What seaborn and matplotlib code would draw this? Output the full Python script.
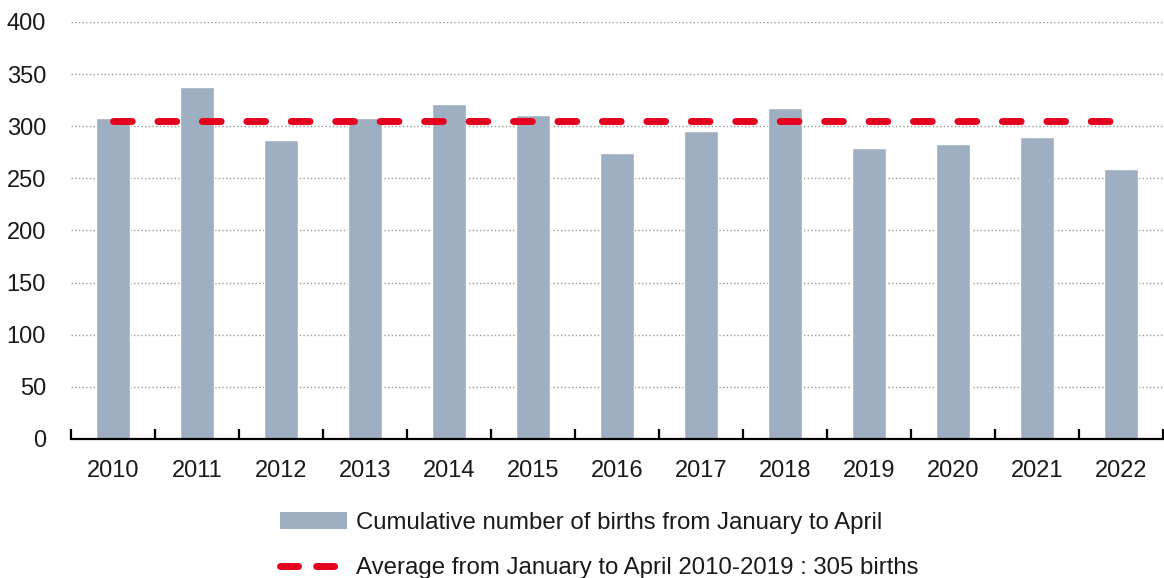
import numpy as np
import pandas as pd
import seaborn as sns
import matplotlib.pyplot as plt
from matplotlib.patches import Patch
from matplotlib.lines import Line2D
from matplotlib.ticker import FixedLocator

years = ['2010', '2011', '2012', '2013', '2014', '2015', '2016',
         '2017', '2018', '2019', '2020', '2021', '2022']
births = [308, 338, 287, 308, 321, 311, 274, 295, 317, 279, 283, 290, 259]
average = [305] * len(years)

bar_label = 'Cumulative number of births from January to April'
line_label = 'Average from January to April 2010-2019 : 305 births'

bar_color = '#9DAFC0'
red = '#E4001E'

sns.set_style('white')
plt.rcParams['font.family'] = ['Liberation Sans', 'DejaVu Sans']

df = pd.DataFrame({'year': years, 'births': births, 'average': average})

fig = plt.figure(figsize=(11.64, 5.78), dpi=100)
ax = fig.add_axes([0.061, 0.2405, 0.938, 0.7215])

sns.barplot(data=df, x='year', y='births', color=bar_color, width=0.4,
            saturation=1, ax=ax)
# average line drawn from the first to the last year
ax.plot(df['year'], df['average'], color=red, lw=5,
        linestyle=(0, (2.7, 3.7)), dash_capstyle='round')

ax.set_xlim(-0.5, len(years) - 0.5)
ax.set_ylim(0, 400)
ax.set_yticks(range(0, 401, 50))
ax.yaxis.grid(True, linestyle=':', color='#999999', lw=1)
ax.set_axisbelow(True)
ax.set_xlabel('')
ax.set_ylabel('')

for s in ['top', 'right', 'left']:
    ax.spines[s].set_visible(False)
ax.spines['bottom'].set_color('black')
ax.spines['bottom'].set_linewidth(1.6)

txt = '#1a1a1a'
ax.tick_params(axis='y', length=0, pad=18, labelsize=17, colors=txt)
ax.tick_params(axis='x', which='major', bottom=True, length=0, pad=15,
               labelsize=17, colors=txt)
# tick marks sit between the categories
ax.xaxis.set_minor_locator(FixedLocator(np.arange(len(years) + 1) - 0.5))
ax.tick_params(axis='x', which='minor', bottom=True, direction='in',
               length=7, width=1.6, color='black')

handles = [Patch(facecolor=bar_color, edgecolor='none', label=bar_label),
           Line2D([0], [0], color=red, lw=5, linestyle=(0, (2.6, 2.6)),
                  dash_capstyle='round', label=line_label)]
fig.legend(handles=handles, loc='upper left', bbox_to_anchor=(0.2405, 0.114),
           frameon=False, fontsize=17.3, handlelength=2.8, handleheight=0.7,
           handletextpad=0.35, labelspacing=0.95, borderpad=0,
           borderaxespad=0, labelcolor=txt)

fig.savefig('out.png', dpi=100)
